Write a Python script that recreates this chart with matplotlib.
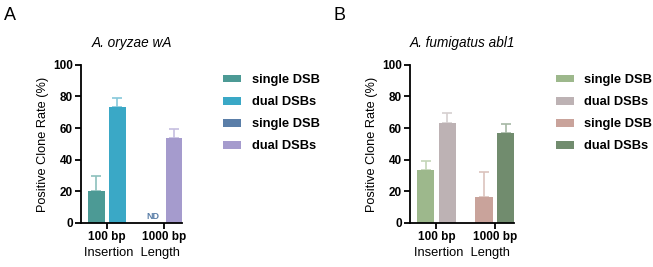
import numpy as np
import matplotlib
matplotlib.use("Agg")
import matplotlib.pyplot as plt
from matplotlib.patches import Patch

plt.rcParams['font.family'] = ['Liberation Sans', 'DejaVu Sans']

groups = ["100 bp", "1000 bp"]
legend_labels = ["single DSB", "dual DSBs", "single DSB", "dual DSBs"]

# panel A: A. oryzae wA  (order: 100bp single, 100bp dual, 1000bp single, 1000bp dual)
a_values = [20.0, 73.5, 0.0, 53.5]
a_errors = [10.0, 5.5, 0.0, 6.0]
a_colors = ["#4c9a95", "#3aa8c6", "#5a7ea8", "#a59bcd"]
a_err_colors = ["#8cc0bc", "#86c8da", "#9ab0ca", "#c6bfe0"]

# panel B: A. fumigatus abl1
b_values = [33.5, 63.5, 16.5, 57.0]
b_errors = [5.5, 6.0, 15.5, 5.5]
b_colors = ["#9db88c", "#bdb2b4", "#c9a39b", "#718c6e"]
b_err_colors = ["#c3d5b8", "#d6cfd0", "#dcc3bd", "#a6b8a4"]

fig = plt.figure(figsize=(6.53, 2.67), dpi=100)


def draw_panel(left, width, values, errors, colors, err_colors, title, letter, nd=False):
    ax = fig.add_axes([left, 0.165, width, 0.592])
    off = 0.185
    xs = [0 - off, 0 + off, 1 - off, 1 + off]
    for x, v, e, c, ec in zip(xs, values, errors, colors, err_colors):
        if v > 0:
            ax.bar(x, v, width=0.30, color=c, zorder=2)
            ax.errorbar(x, v, yerr=[[0], [e]], color=ec, capsize=3.5,
                        elinewidth=1.2, capthick=1.2, zorder=1)
    if nd:
        ax.text(xs[2], 1.0, "ND", ha="center", va="bottom", fontsize=6.5,
                color=colors[2], fontweight="bold")
    ax.set_xlim(-0.45, 1.32)
    ax.set_ylim(0, 100)
    ax.set_yticks([0, 20, 40, 60, 80, 100])
    ax.set_xticks([0, 1])
    ax.set_xticklabels(groups, fontweight="bold", fontsize=8.5)
    for lab in ax.get_yticklabels():
        lab.set_fontweight("bold")
        lab.set_fontsize(8.5)
    ax.set_xlabel("Insertion  Length", fontsize=9.3, labelpad=3)
    ax.set_ylabel("Positive Clone Rate (%)", fontsize=9.2, labelpad=3)
    ax.spines["top"].set_visible(False)
    ax.spines["right"].set_visible(False)
    ax.spines["left"].set_linewidth(1.3)
    ax.spines["bottom"].set_linewidth(1.3)
    ax.tick_params(width=1.3, length=4, pad=2)
    ax.set_title(title, fontstyle="italic", fontsize=9.8, pad=13)
    handles = [Patch(facecolor=c, edgecolor="none") for c in colors]
    ax.legend(handles, legend_labels, loc="upper left", bbox_to_anchor=(1.29, 1.015),
              frameon=False, handlelength=1.4, handleheight=0.55, handletextpad=0.8,
              labelspacing=0.78, prop={"weight": "bold", "size": 9.3})
    fig.text(left - 0.118, 0.925, letter, fontsize=13)
    return ax


draw_panel(0.124, 0.155, a_values, a_errors, a_colors, a_err_colors,
           "A. oryzae wA", "A", nd=True)
draw_panel(0.628, 0.159, b_values, b_errors, b_colors, b_err_colors,
           "A. fumigatus abl1", "B")

fig.savefig("out.png", dpi=100)
